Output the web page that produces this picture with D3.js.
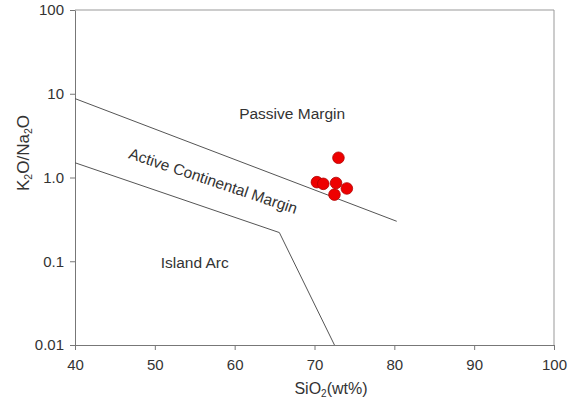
<!DOCTYPE html>
<html>
<head>
<meta charset="utf-8">
<script src="https://cdn.jsdelivr.net/npm/d3@7"></script>
<style>
  body { margin: 0; background: #fff; }
  svg { display: block; font-family: "Liberation Sans", Arial, sans-serif; }
  .tick text { fill: #333; font-size: 15px; }
  .domain, .tick line { stroke: #777; }
</style>
</head>
<body>
<svg id="chart" width="573" height="401"></svg>
<script>
// samples
var sio2 = [73.0, 70.3, 71.1, 72.7, 74.05, 72.5]
var k2oNa2o = [1.72, 0.88, 0.84, 0.86, 0.74, 0.625]

// field boundaries (Roser & Korsch)
var pmSio2 = [40, 80.3]
var pmRatio = [8.75, 0.30]
var arcSio2 = [40, 65.6, 72.5]
var arcRatio = [1.5, 0.22, 0.01]

var xTicks = [40, 50, 60, 70, 80, 90, 100]
var yTicks = [100, 10, 1, 0.1, 0.01]
var yTickLabels = ['100', '10', '1.0', '0.1', '0.01']

var fieldNames = ['Passive Margin', 'Active Continental Margin', 'Island Arc']
var fieldSio2 = [67.2, 57.1, 55.0]
var fieldRatio = [5.0, 0.79, 0.083]
var fieldAngle = [0, 18.5, 0]

var svg = d3.select('#chart')
var plotLeft = 75, plotRight = 554, plotTop = 10, plotBottom = 345

var x = d3.scaleLinear().domain([40, 100]).range([plotLeft, plotRight])
var y = d3.scaleLog().domain([0.01, 100]).range([plotBottom, plotTop])

// frame top / right
svg.append('path')
  .attr('d', 'M' + plotLeft + ',' + plotTop + 'H' + plotRight + 'V' + plotBottom)
  .attr('fill', 'none')
  .attr('stroke', '#999')

svg.append('g')
  .attr('transform', 'translate(0,' + plotBottom + ')')
  .call(d3.axisBottom(x).tickValues(xTicks).tickSize(5).tickSizeOuter(0).tickPadding(7))
  .call((g) => g.selectAll('text').attr('dy', '0.85em'))

svg.append('g')
  .attr('transform', 'translate(' + plotLeft + ',0)')
  .call(d3.axisLeft(y).tickValues(yTicks).tickSize(5).tickSizeOuter(0).tickPadding(6)
    .tickFormat((d, i) => yTickLabels[i]))

var line = d3.line().x((d) => x(d[0])).y((d) => y(d[1]))

svg.append('path')
  .attr('d', line(d3.zip(pmSio2, pmRatio)))
  .attr('fill', 'none')
  .attr('stroke', '#555')

svg.append('path')
  .attr('d', line(d3.zip(arcSio2, arcRatio)))
  .attr('fill', 'none')
  .attr('stroke', '#555')

svg.selectAll('.field')
  .data(fieldNames)
  .enter()
  .append('text')
  .attr('class', 'field')
  .attr('transform', (d, i) => 'translate(' + x(fieldSio2[i]) + ',' + y(fieldRatio[i]) + ') rotate(' + fieldAngle[i] + ')')
  .attr('text-anchor', 'middle')
  .attr('font-size', 15.5)
  .attr('fill', '#333')
  .text((d) => d)

svg.selectAll('.pt')
  .data(d3.zip(sio2, k2oNa2o))
  .enter()
  .append('circle')
  .attr('class', 'pt')
  .attr('cx', (d) => x(d[0]))
  .attr('cy', (d) => y(d[1]))
  .attr('r', 5.8)
  .attr('fill', '#ee0000')
  .attr('stroke', '#b00000')
  .attr('stroke-width', 0.8)

// axis titles
var xt = svg.append('text')
  .attr('x', 331)
  .attr('y', 394)
  .attr('text-anchor', 'middle')
  .attr('font-size', 16)
  .attr('fill', '#333')
xt.append('tspan').text('SiO')
xt.append('tspan').attr('font-size', 10).attr('dy', 3).text('2')
xt.append('tspan').attr('dy', -3).text('(wt%)')

var yt = svg.append('text')
  .attr('transform', 'translate(29,153) rotate(-90)')
  .attr('text-anchor', 'middle')
  .attr('font-size', 17)
  .attr('fill', '#333')
yt.append('tspan').text('K')
yt.append('tspan').attr('font-size', 10.5).attr('dy', 3).text('2')
yt.append('tspan').attr('dy', -3).text('O/Na')
yt.append('tspan').attr('font-size', 10.5).attr('dy', 3).text('2')
yt.append('tspan').attr('dy', -3).text('O')
</script>
</body>
</html>
